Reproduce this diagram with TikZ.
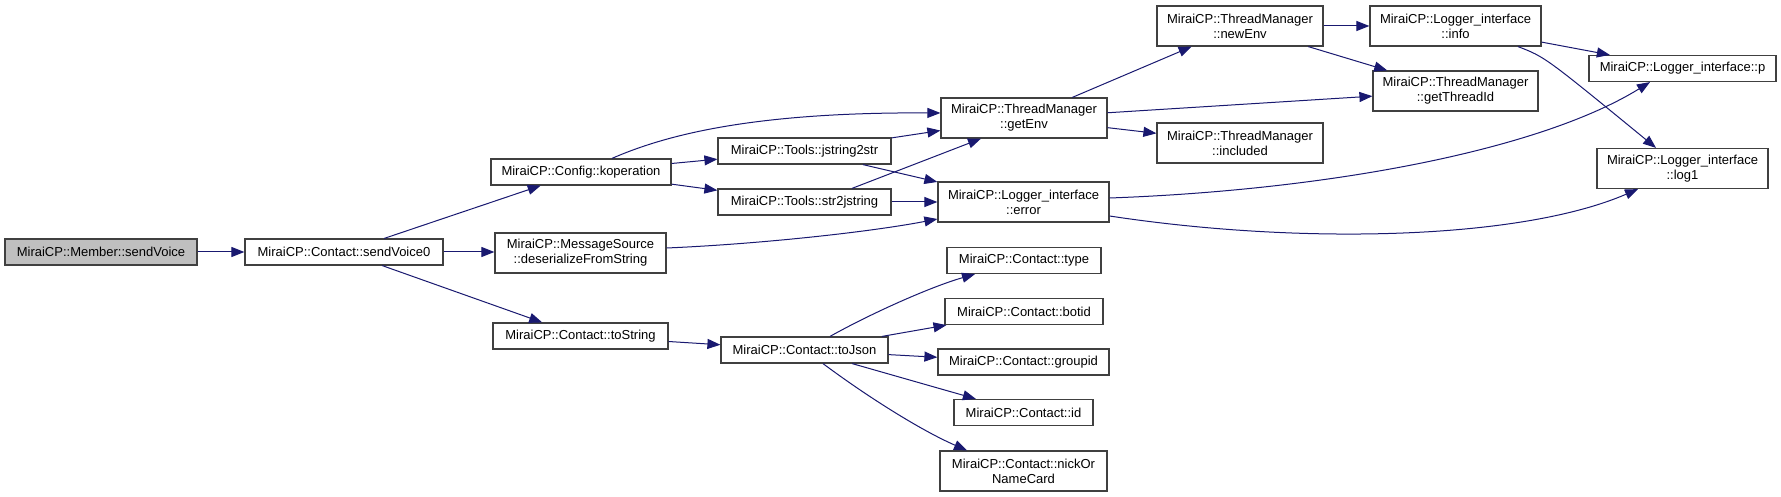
\documentclass[tikz,border=0pt]{standalone}
\usepackage{fontspec}
\setmainfont{Liberation Sans}
\usetikzlibrary{arrows.meta,calc}
\definecolor{edgeblue}{HTML}{191970}
\definecolor{boxline}{HTML}{404040}
\definecolor{rootfill}{HTML}{BFBFBF}
\begin{document}
\begin{tikzpicture}[x=1pt,y=-1pt,
  box/.style={draw=boxline, line width=1.2pt, fill=white, inner sep=0pt, align=center,
    font=\fontsize{13}{15}\selectfont, text=black, minimum height=26pt},
  tall/.style={minimum height=40pt},
  edge/.style={draw=edgeblue, line width=1pt, -{Triangle[length=13pt,width=10pt]}},
]
\fill[white] (0,0) rectangle (1781,497);
\useasboundingbox (0,0) rectangle (1781,497);

% nodes
\node[box, fill=rootfill, minimum width=192pt] (root) at (101,252) {MiraiCP::Member::sendVoice};
\node[box, minimum width=198pt] (sv0) at (344,252) {MiraiCP::Contact::sendVoice0};
\node[box, minimum width=180pt] (kop) at (581,172) {MiraiCP::Config::koperation};
\node[box, tall, minimum width=171pt] (msrc) at (580.5,253) {MiraiCP::MessageSource\\::deserializeFromString};
\node[box, minimum width=175pt] (tostr) at (580.5,336) {MiraiCP::Contact::toString};
\node[box, minimum width=173pt] (j2s) at (804.5,151) {MiraiCP::Tools::jstring2str};
\node[box, minimum width=173pt] (s2j) at (804.5,202) {MiraiCP::Tools::str2jstring};
\node[box, minimum width=167pt] (tojson) at (804.5,350) {MiraiCP::Contact::toJson};
\node[box, tall, minimum width=166pt] (getenv) at (1024,118) {MiraiCP::ThreadManager\\::getEnv};
\node[box, tall, minimum width=171pt] (error) at (1023.5,202) {MiraiCP::Logger\_interface\\::error};
\node[box, minimum width=154pt] (type) at (1024,260.5) {MiraiCP::Contact::type};
\node[box, minimum width=158pt] (botid) at (1024,311.5) {MiraiCP::Contact::botid};
\node[box, minimum width=171pt] (groupid) at (1023.5,362) {MiraiCP::Contact::groupid};
\node[box, minimum width=139pt] (id) at (1023.5,412.5) {MiraiCP::Contact::id};
\node[box, tall, minimum width=167pt] (nick) at (1023.5,471) {MiraiCP::Contact::nickOr\\NameCard};
\node[box, tall, minimum width=166pt] (newenv) at (1240,26) {MiraiCP::ThreadManager\\::newEnv};
\node[box, tall, minimum width=166pt] (included) at (1240,143) {MiraiCP::ThreadManager\\::included};
\node[box, tall, minimum width=171pt] (info) at (1455.5,26) {MiraiCP::Logger\_interface\\::info};
\node[box, tall, minimum width=165pt] (gettid) at (1455.5,91) {MiraiCP::ThreadManager\\::getThreadId};
\node[box, minimum width=187pt] (p) at (1682.5,68.5) {MiraiCP::Logger\_interface::p};
\node[box, tall, minimum width=171pt] (log1) at (1682.5,168.5) {MiraiCP::Logger\_interface\\::log1};

% edges
\draw[edge] (root) -- (sv0);
\draw[edge] (sv0) -- (kop);
\draw[edge] (sv0.east) -- (sv0.east -| msrc.west);
\draw[edge] (sv0) -- (tostr);
\draw[edge] ($(kop.north)+(31,0)$) .. controls (670,133) and (760,112) .. ($(getenv.west)+(0,-5)$);
\draw[edge] (kop) -- (j2s);
\draw[edge] (kop) -- (s2j);
\draw[edge] (j2s) -- (getenv);
\draw[edge] (j2s) -- (error);
\draw[edge] ($(s2j.north)+(47.5,0)$) -- ($(getenv.south)+(-43,0)$);
\draw[edge] (s2j) -- (error);
\draw[edge] ($(msrc.east)+(0,-5)$) .. controls (760,244) and (870,232) .. ($(error.west)+(0,17)$);
\draw[edge] (tostr) -- (tojson);
\draw[edge] (getenv) -- (newenv);
\draw[edge] (getenv) -- (gettid);
\draw[edge] (getenv) -- (included);
\draw[edge] (newenv) -- (info);
\draw[edge] (newenv) -- (gettid);
\draw[edge] (info) -- (p);
\draw[edge] ($(info.south)+(62.5,0)$) .. controls (1545,57) .. ($(log1.north)+(-26.5,0)$);
\draw[edge] ($(error.east)+(0,-4)$) .. controls (1330,190) and (1540,150) .. ($(p.south)+(-32.5,0)$);
\draw[edge] ($(error.east)+(0,14)$) .. controls (1300,245) and (1520,240) .. ($(log1.south)+(-44.5,0)$);
\draw[edge] ($(tojson.north)+(25.5,0)$) .. controls (870,314) and (930,287) .. ($(type.south)+(-49,0)$);
\draw[edge] (tojson) -- (botid);
\draw[edge] (tojson) -- (groupid);
\draw[edge] (tojson) -- (id);
\draw[edge] ($(tojson.south)+(18.5,0)$) .. controls (865,395) and (920,430) .. ($(nick.north)+(-56.5,0)$);
\end{tikzpicture}
\end{document}
